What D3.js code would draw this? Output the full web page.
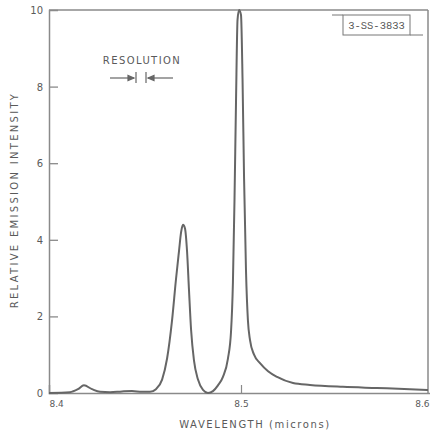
<!DOCTYPE html>
<html><head><meta charset="utf-8">
<script src="https://cdn.jsdelivr.net/npm/d3@7"></script>
<style>
html,body{margin:0;padding:0;background:#fff;}
svg{display:block;}
text{font-family:"DejaVu Sans",sans-serif;fill:#5a5a5a;}
</style></head>
<body>
<script>
// Data
const wavelength = [8.4000,8.4109,8.4151,8.4182,8.4224,8.4266,8.4318,8.4380,8.4432,8.4484,8.4526,8.4557,8.4589,8.4615,8.4641,8.4661,8.4677,8.4688,8.4698,8.4708,8.4719,8.4729,8.4740,8.4755,8.4776,8.4802,8.4828,8.4854,8.4880,8.4906,8.4932,8.4948,8.4958,8.4966,8.4974,8.4982,8.4990,8.5000,8.5008,8.5016,8.5026,8.5036,8.5047,8.5068,8.5099,8.5141,8.5188,8.5271,8.5359,8.5531,8.5708,8.5880,8.5974];
const intensity  = [0,0.02,0.1,0.2,0.1,0.03,0.02,0.04,0.05,0.03,0.03,0.1,0.35,0.9,1.9,2.95,3.7,4.2,4.39,4.3,3.7,2.7,1.65,0.85,0.35,0.08,0,0.05,0.2,0.42,0.9,1.6,2.9,5.0,7.6,9.75,10,9.87,8.2,5.6,3.2,1.9,1.38,1.0,0.78,0.57,0.42,0.26,0.21,0.16,0.13,0.1,0.08];
const xTicks = [8.4, 8.5, 8.6];
const yTicks = [0, 2, 4, 6, 8, 10];
const xTitle = "WAVELENGTH (microns)";
const yTitle = "RELATIVE EMISSION INTENSITY";
const noteText = "RESOLUTION";
const tagText = "3-SS-3833";

const W = 430, H = 435;
const mLeft = 49, mTop = 10, mBottom = 393, rightEdge = 428;
const svg = d3.select("body").append("svg").attr("width", W).attr("height", H);

const x = d3.scaleLinear().domain([8.4, 8.6]).range([mLeft, 433]);
const y = d3.scaleLinear().domain([0, 10]).range([mBottom, mTop]);

const axisColor = "#8a8a8a";

// frame: top and right
svg.append("line").attr("x1", mLeft).attr("x2", rightEdge).attr("y1", mTop).attr("y2", mTop)
  .attr("stroke", axisColor).attr("stroke-width", 1.5);
svg.append("line").attr("x1", rightEdge).attr("x2", rightEdge).attr("y1", mTop).attr("y2", mBottom)
  .attr("stroke", axisColor).attr("stroke-width", 1.5);

// Y axis
const gy = svg.append("g").attr("transform", `translate(${mLeft},0)`)
  .call(d3.axisLeft(y).tickValues(yTicks).tickSize(-9).tickPadding(6).tickFormat(d3.format("d")));
gy.select(".domain").attr("stroke", axisColor).attr("stroke-width", 1.5);
gy.selectAll(".tick line").attr("stroke", axisColor).attr("stroke-width", 1.3)
  .filter(d => d === 0 || d === 10).remove();
gy.selectAll(".tick text").attr("font-size", 10).style("font-family", "DejaVu Sans").attr("fill", "#555")
  .attr("dy", "0.35em");

// X axis
const gx = svg.append("g").attr("transform", `translate(0,${mBottom})`)
  .call(d3.axisBottom(x).tickValues(xTicks).tickSize(-8).tickPadding(8).tickFormat(d3.format(".1f")));
gx.select(".domain").attr("stroke", axisColor).attr("stroke-width", 1.5);
gx.selectAll(".tick line").attr("stroke", axisColor).attr("stroke-width", 1.2)
  .filter(d => d !== 8.5).remove();
gx.selectAll(".tick text").attr("font-size", 9).style("font-family", "DejaVu Sans").attr("fill", "#555")
  .attr("text-anchor", d => d === 8.4 ? "start" : (d === 8.6 ? "end" : "middle"))
  .attr("dx", d => d === 8.6 ? -4 : 0);

// spectrum
const data = wavelength.map((w, i) => ({w, v: intensity[i]}));
svg.append("path").datum(data)
  .attr("fill", "none").attr("stroke", "#666").attr("stroke-width", 2)
  .attr("d", d3.line().x(d => x(d.w)).y(d => y(d.v)).curve(d3.curveMonotoneX));

// Axis titles
svg.append("text").attr("x", 255).attr("y", 428).attr("text-anchor", "middle")
  .attr("font-size", 10).attr("letter-spacing", 1.6).text(xTitle);
svg.append("text").attr("transform", `translate(18,200) rotate(-90)`).attr("text-anchor", "middle")
  .attr("font-size", 10).attr("letter-spacing", 2.3).text(yTitle);

// Resolution annotation
svg.append("text").attr("x", 142).attr("y", 64).attr("text-anchor", "middle")
  .attr("font-size", 10).attr("letter-spacing", 1.4).text(noteText);
const ay = 78;
const ann = svg.append("g").attr("stroke", "#666").attr("stroke-width", 1.2).attr("fill", "#666");
ann.append("line").attr("x1", 110).attr("x2", 134).attr("y1", ay).attr("y2", ay);
ann.append("path").attr("d", `M134,${ay} L128,${ay-2.5} L128,${ay+2.5} Z`);
ann.append("line").attr("x1", 136).attr("x2", 136).attr("y1", ay - 6).attr("y2", ay + 5);
ann.append("line").attr("x1", 146).attr("x2", 146).attr("y1", ay - 6).attr("y2", ay + 5);
ann.append("path").attr("d", `M148,${ay} L154,${ay-2.5} L154,${ay+2.5} Z`);
ann.append("line").attr("x1", 148).attr("x2", 173).attr("y1", ay).attr("y2", ay);

// tag box
const tag = svg.append("g");
tag.append("line").attr("x1", 332).attr("x2", 343).attr("y1", 15).attr("y2", 15).attr("stroke", "#777").attr("stroke-width", 1);
tag.append("rect").attr("x", 343).attr("y", 15).attr("width", 67).attr("height", 20)
  .attr("fill", "none").attr("stroke", "#777").attr("stroke-width", 1);
tag.append("line").attr("x1", 410).attr("x2", 423).attr("y1", 35).attr("y2", 35).attr("stroke", "#777").attr("stroke-width", 1);
tag.append("text").attr("x", 376.5).attr("y", 29).attr("text-anchor", "middle")
  .style("font-family", "Liberation Mono, monospace").attr("font-size", 10.5).text(tagText);
</script>
</body></html>
